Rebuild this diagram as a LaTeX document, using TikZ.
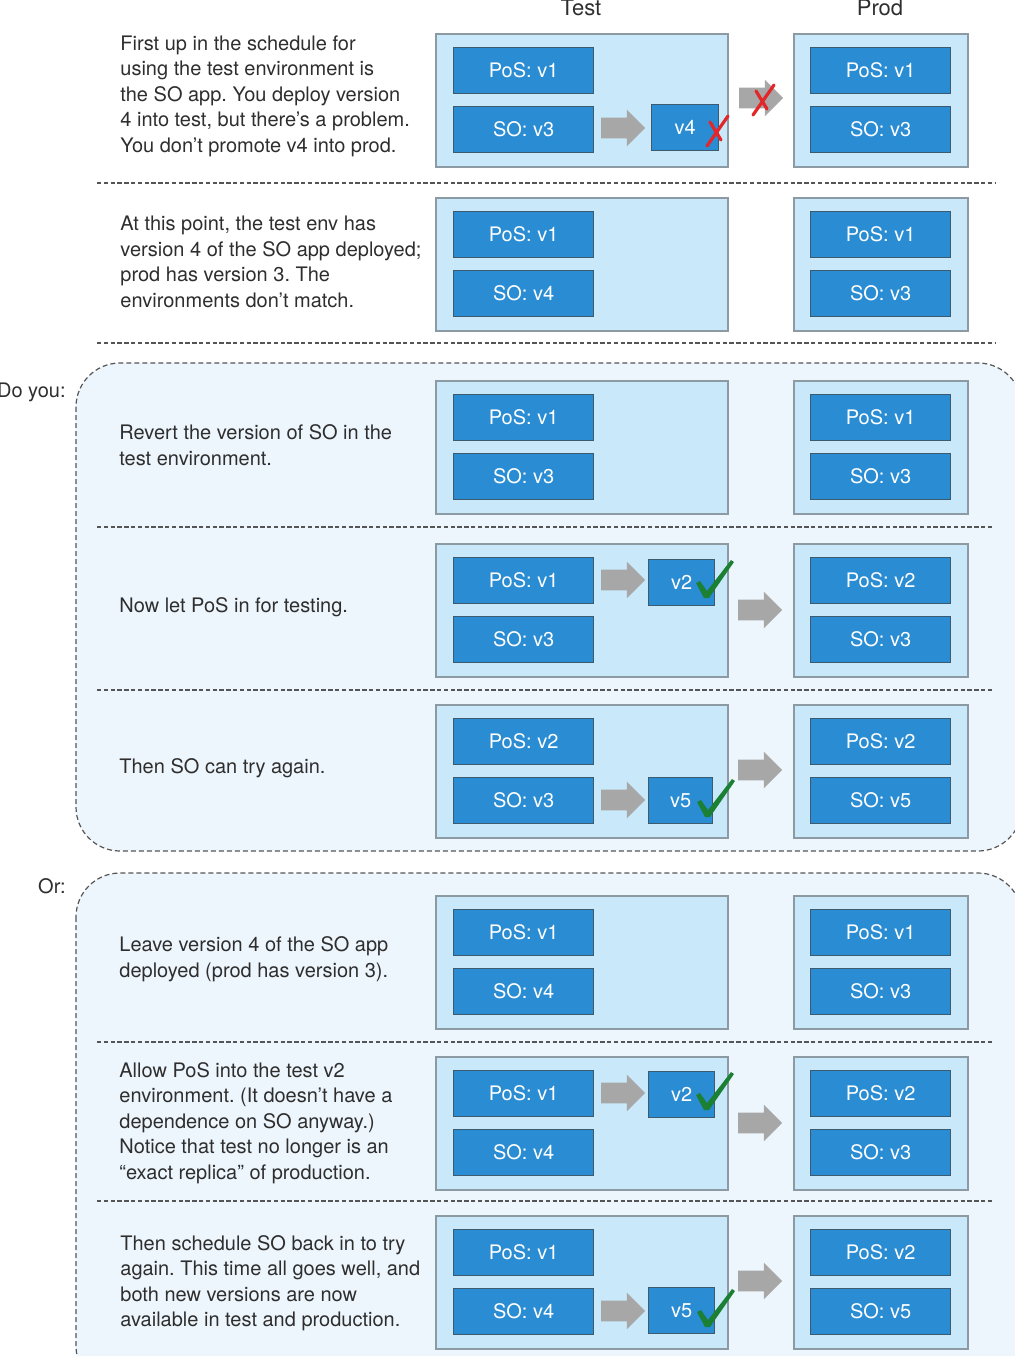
\documentclass[tikz,border=0pt]{standalone}
\usepackage{fontspec}
\setmainfont{TeX Gyre Heros}
\usetikzlibrary{shapes.arrows}
\definecolor{txt}{HTML}{2E2E2E}
\definecolor{innerblue}{HTML}{2A8CD3}
\definecolor{innerline}{HTML}{3D5A6E}
\definecolor{envblue}{HTML}{C9E8F9}
\definecolor{envline}{HTML}{8C9AA4}
\definecolor{regionfill}{HTML}{EEF6FD}
\definecolor{dashgray}{HTML}{555555}
\definecolor{arrowgray}{HTML}{A7A7A7}
\definecolor{checkgreen}{HTML}{1B7F34}
\definecolor{crossred}{HTML}{E3262A}
\tikzset{
  envbox/.style={draw=envline, fill=envblue, line width=0.8pt, anchor=north west, inner sep=0pt, minimum height=66.5pt},
  innerbox/.style={draw=innerline, fill=innerblue, line width=0.6pt, anchor=north west, inner sep=0pt,
     minimum height=23pt, text=white, font=\fontsize{10}{11}\selectfont},
  garrow/.style={single arrow, fill=arrowgray, draw=none, inner xsep=0pt, inner ysep=5pt,
     minimum height=22pt, single arrow head extend=4pt, single arrow tip angle=90},
  desc/.style={anchor=west, align=left, inner sep=0pt, text=txt, font=\fontsize{10}{12.75}\selectfont},
  sepline/.style={draw=dashgray, line width=0.6pt, dash pattern=on 2.2pt off 1.2pt},
  region/.style={draw=dashgray, fill=regionfill, line width=0.6pt, dash pattern=on 2.5pt off 1.5pt, rounded corners=22pt},
  title/.style={text=txt, font=\fontsize{11}{13}\selectfont},
}
% #1 id, #2 top y, #3 test PoS, #4 test SO, #5 prod PoS, #6 prod SO
\newcommand{\envrow}[6]{%
  \node[envbox, minimum width=146pt] (t#1) at (435,#2) {};
  \node[envbox, minimum width=87pt] (p#1) at (793,#2) {};
  \node[innerbox, minimum width=70pt] (t#1pos) at (453,#2+14) {#3};
  \node[innerbox, minimum width=70pt] (t#1so) at (453,#2+73) {#4};
  \node[innerbox, minimum width=70pt] (p#1pos) at (810,#2+14) {#5};
  \node[innerbox, minimum width=70pt] (p#1so) at (810,#2+73) {#6};
}
\newcommand{\checkmk}[1]{%
  \fill[checkgreen, shift={#1}] (-10,-14) -- (-6,-16) -- (1,-6) -- (25,-37) -- (28,-35) -- (3,1) -- (-2,1) -- cycle;}
\newcommand{\crossmk}[1]{%
  \draw[crossred, line width=1.6pt, line cap=round, shift={#1}] (0,30) -- (21,0) (3,6) -- (14,24);}
\frenchspacing
\begin{document}
\begin{tikzpicture}[x=0.5pt, y=-0.5pt]
\useasboundingbox (0,0) rectangle (1014,1356);
% regions
\path[region] (76,363) rectangle (1022,851);
\path[region] (76,873) rectangle (1022,1390);
% titles
\node[title] (ttest) at (581,8) {Test};
\node[title] (tprod) at (880,8) {Prod};
% separators
\draw[sepline] (97,183) -- (995,183);
\draw[sepline] (97,343) -- (995,343);
\draw[sepline] (97,527) -- (993,527);
\draw[sepline] (97,690) -- (993,690);
\draw[sepline] (97,1042) -- (993,1042);
\draw[sepline] (97,1201) -- (993,1201);
% side labels
\node[desc, anchor=east] (doyou) at (66,392) {Do you:};
\node[desc, anchor=east] (orlbl) at (66,886) {Or:};
% rows
\envrow{1}{33}{PoS: v1}{SO: v3}{PoS: v1}{SO: v3}
\envrow{2}{197}{PoS: v1}{SO: v4}{PoS: v1}{SO: v3}
\envrow{3}{380}{PoS: v1}{SO: v3}{PoS: v1}{SO: v3}
\envrow{4}{543}{PoS: v1}{SO: v3}{PoS: v2}{SO: v3}
\envrow{5}{704}{PoS: v2}{SO: v3}{PoS: v2}{SO: v5}
\envrow{6}{895}{PoS: v1}{SO: v4}{PoS: v1}{SO: v3}
\envrow{7}{1056}{PoS: v1}{SO: v4}{PoS: v2}{SO: v3}
\envrow{8}{1215}{PoS: v1}{SO: v4}{PoS: v2}{SO: v5}
% new version boxes
\node[innerbox, minimum width=33.5pt] (v4a) at (651,104) {v4};
\node[innerbox, minimum width=33pt] (v2a) at (648,559) {v2};
\node[innerbox, minimum width=32pt] (v5a) at (648,777) {v5};
\node[innerbox, minimum width=33pt] (v2b) at (648,1071) {v2};
\node[innerbox, minimum width=33pt] (v5b) at (648,1287) {v5};
% gray arrows
\node[garrow] (a1) at (618,128) {};
\node[garrow] (b1) at (756,98) {};
\node[garrow] (a4) at (618,580) {};
\node[garrow] (b4) at (755,610) {};
\node[garrow] (a5) at (618,800) {};
\node[garrow] (b5) at (755,770) {};
\node[garrow] (a7) at (618,1093) {};
\node[garrow] (b7) at (755,1123) {};
\node[garrow] (a8) at (618,1311) {};
\node[garrow] (b8) at (755,1281) {};
% marks
\crossmk{(707,116)}
\crossmk{(753,85)}
\checkmk{(706,597)}
\checkmk{(707,816)}
\checkmk{(706,1109)}
\checkmk{(707,1326)}
% descriptions
\node[desc] (d1) at (120,96) {First up in the schedule for\\using the test environment is\\the SO app. You deploy version\\4 into test, but there’s a problem.\\You don’t promote v4 into prod.};
\node[desc] (d2) at (120,262) {At this point, the test env has\\version 4 of the SO app deployed;\\prod has version 3. The\\environments don’t match.};
\node[desc] (d3) at (119,445) {Revert the version of SO in the\\test environment.};
\node[desc] (d4) at (119,607) {Now let PoS in for testing.};
\node[desc] (d5) at (119,768) {Then SO can try again.};
\node[desc] (d6) at (119,959) {Leave version 4 of the SO app\\deployed (prod has version 3).};
\node[desc] (d7) at (119,1123) {Allow PoS into the test v2\\environment. (It doesn’t have a\\dependence on SO anyway.)\\Notice that test no longer is an\\“exact replica” of production.};
\node[desc] (d8) at (120,1283) {Then schedule SO back in to try\\again. This time all goes well, and\\both new versions are now\\available in test and production.};
\end{tikzpicture}
\end{document}
